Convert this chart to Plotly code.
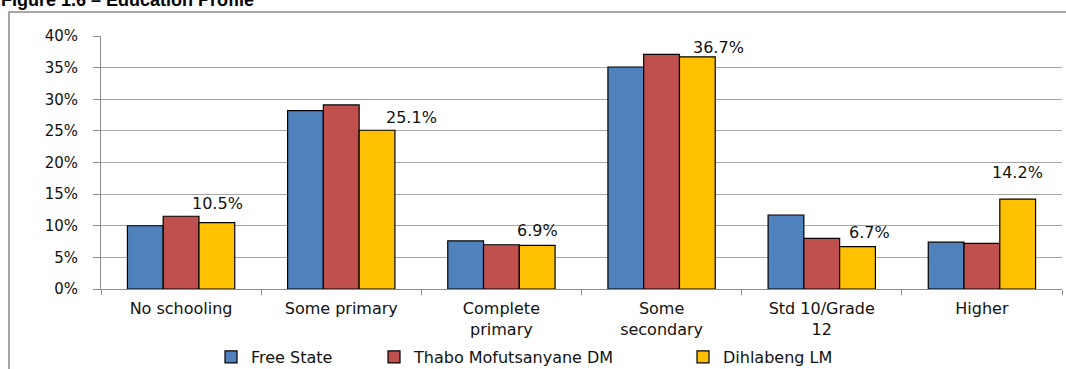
import plotly.graph_objects as go

# Education profile: share of population (%) by highest level of education
categories = ["No schooling", "Some primary", "Complete<br>primary",
              "Some<br>secondary", "Std 10/Grade<br>12", "Higher"]
free_state = [10.0, 28.2, 7.6, 35.1, 11.7, 7.4]
thabo_mofutsanyane = [11.5, 29.1, 7.0, 37.1, 8.0, 7.2]
dihlabeng = [10.5, 25.1, 6.9, 36.7, 6.7, 14.2]
y_ticks = [0, 5, 10, 15, 20, 25, 30, 35, 40]
y_tick_text = [f"{v}%" for v in y_ticks]

series = [
    ("Free State", free_state, "#4F81BD", "legend"),
    ("Thabo Mofutsanyane DM", thabo_mofutsanyane, "#C0504D", "legend2"),
    ("Dihlabeng LM", dihlabeng, "#FFC000", "legend3"),
]

W, H = 1066, 369
M_L, M_R, M_T, M_B = 101, 4, 36, 80
PW, PH = W - M_L - M_R, H - M_T - M_B


def px_x(px):
    return (px - M_L) / PW


def px_y(py):
    return (H - M_B - py) / PH


def cx(px):
    return px / W


def cy(py):
    return 1 - py / H


LABEL_FONT = dict(family="DejaVu Sans", size=16, color="#111111")

fig = go.Figure()
for name, vals, color, leg in series:
    fig.add_trace(go.Bar(
        x=categories, y=vals, name=name, legend=leg,
        marker=dict(color=color, line=dict(color="#000000", width=1.2)),
        hoverinfo="x+y+name",
    ))

# value labels for the Dihlabeng series (pixel nudges from the bar top)
label_dx = [36, 70, 36, 57, 48, 36]
label_dy = [19, 13, 15, 9, 14, 27]
annotations = []
for cat, v, dx, dy in zip(categories, dihlabeng, label_dx, label_dy):
    annotations.append(dict(
        x=cat, y=v, xref="x", yref="y", text=f"{v:.1f}%",
        showarrow=False, xshift=dx, yshift=dy,
        xanchor="center", yanchor="middle", font=LABEL_FONT,
    ))

# figure caption, partly above the visible page
annotations.append(dict(
    x=px_x(-1), y=px_y(12), xref="paper", yref="paper",
    text="<b>Figure 1.6 – Education Profile</b>", showarrow=False,
    xanchor="left", yanchor="bottom",
    font=dict(family="Liberation Sans", size=18, color="#000000"),
))

# chart-area frame
shapes = [dict(
    type="rect", xref="paper", yref="paper",
    x0=px_x(9), x1=px_x(1080), y0=px_y(380), y1=px_y(12),
    line=dict(color="#8C8C8C", width=1.5), fillcolor="rgba(0,0,0,0)",
    layer="below",
)]

legend_common = dict(
    orientation="h", yanchor="middle", xanchor="left",
    xref="container", yref="container",
    bgcolor="rgba(0,0,0,0)", font=LABEL_FONT,
    itemclick=False, itemdoubleclick=False,
)

fig.update_layout(
    width=W, height=H,
    margin=dict(l=M_L, r=M_R, t=M_T, b=M_B, pad=0, autoexpand=False),
    paper_bgcolor="#FFFFFF", plot_bgcolor="#FFFFFF",
    barmode="group", bargap=0.33, bargroupgap=0,
    annotations=annotations, shapes=shapes,
    showlegend=True,
    legend=dict(x=cx(211), y=cy(357), **legend_common),
    legend2=dict(x=cx(374), y=cy(357), **legend_common),
    legend3=dict(x=cx(683), y=cy(357), **legend_common),
    xaxis=dict(
        type="category", tickson="boundaries", ticks="outside",
        ticklen=5, tickcolor="#8C8C8C", showline=True, linecolor="#8C8C8C",
        linewidth=1, showgrid=False, tickfont=LABEL_FONT, fixedrange=True,
        ticklabelstandoff=5, automargin=False,
    ),
    yaxis=dict(
        range=[0, 40], tickvals=y_ticks, ticktext=y_tick_text,
        ticks="outside", ticklen=7, tickcolor="#8C8C8C",
        showline=True, linecolor="#8C8C8C", linewidth=1,
        showgrid=True, gridcolor="#A6A6A6", gridwidth=1,
        zeroline=False, ticklabelstandoff=12, automargin=False,
        tickfont=dict(family="DejaVu Sans", size=15, color="#111111"),
        fixedrange=True,
    ),
)

fig.write_html("out.html")
